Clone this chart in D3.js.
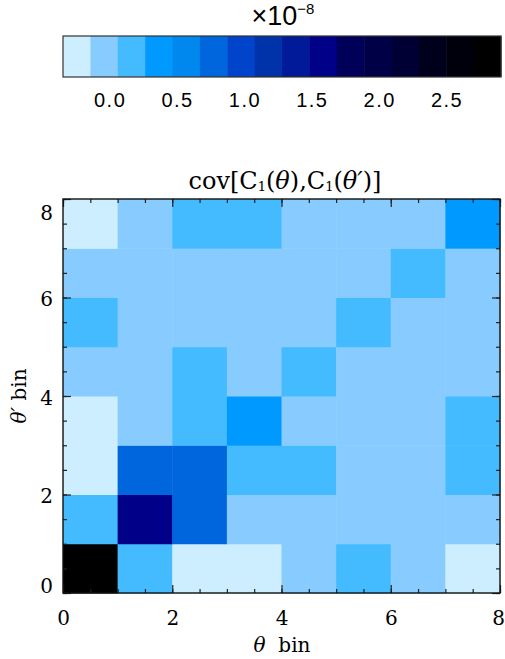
<!DOCTYPE html>
<html>
<head>
<meta charset="utf-8">
<script src="https://cdn.jsdelivr.net/npm/d3@7/dist/d3.min.js"></script>
<style>
  body { margin: 0; background: #fff; }
  svg { display: block; }
  .tick line { stroke: #222; stroke-width: 1.2; }
  .serif { font-family: "DejaVu Serif", "Liberation Serif", serif; }
</style>
</head>
<body>
<div id="chart-area"></div>
<script>
// covariance values, units of 1e-8; row i = theta' bin i (bottom to top), column j = theta bin j
var row0 = [ 2.80,  0.16, -0.24, -0.26, -0.04,  0.14, -0.06, -0.25];
var row1 = [ 0.16,  1.56,  0.76, -0.05, -0.03, -0.07, -0.04, -0.06];
var row2 = [-0.24,  0.76,  0.74,  0.15,  0.17, -0.05, -0.08,  0.13];
var row3 = [-0.26, -0.05,  0.15,  0.36, -0.06, -0.04, -0.05,  0.12];
var row4 = [-0.04, -0.03,  0.17, -0.06,  0.18, -0.03, -0.06, -0.05];
var row5 = [ 0.14, -0.07, -0.05, -0.04, -0.03,  0.16, -0.07, -0.04];
var row6 = [-0.06, -0.04, -0.08, -0.05, -0.06, -0.07,  0.15, -0.06];
var row7 = [-0.25, -0.06,  0.13,  0.12, -0.05, -0.04, -0.06,  0.33];
var rows = [row0, row1, row2, row3, row4, row5, row6, row7];

var colorLevels = ["#cceeff", "#88ccff", "#44bbff", "#0099ff", "#0088ee", "#0066dd",
                   "#0044cc", "#0033aa", "#001a99", "#000088", "#000058", "#000046",
                   "#000034", "#00001c", "#00000c", "#000000"];
var colorDomain = [-0.35, 2.9];
var barTicks = [0.0, 0.5, 1.0, 1.5, 2.0, 2.5];
var binTicks = [0, 2, 4, 6, 8];

var W = 505, H = 659;
var svg = d3.select("#chart-area").append("svg")
    .attr("width", W)
    .attr("height", H);

var color = d3.scaleQuantize().domain(colorDomain).range(colorLevels);

// ---- colour bar ----
var cb = { left: 63, right: 501, top: 36, bottom: 77 };
var cx = d3.scaleLinear().domain(colorDomain).range([cb.left, cb.right]);
var step = (colorDomain[1] - colorDomain[0]) / colorLevels.length;

svg.append("g").selectAll("rect")
    .data(colorLevels)
    .enter()
    .append("rect")
        .attr("x", function(d, i){ return cx(colorDomain[0] + i * step); })
        .attr("y", cb.top)
        .attr("width", function(d, i){ return cx(colorDomain[0] + (i + 1) * step) - cx(colorDomain[0] + i * step) + 0.5; })
        .attr("height", cb.bottom - cb.top)
        .attr("fill", function(d){ return d; });

svg.append("rect")
    .attr("x", cb.left).attr("y", cb.top)
    .attr("width", cb.right - cb.left).attr("height", cb.bottom - cb.top)
    .attr("fill", "none").attr("stroke", "#333").attr("stroke-width", 1.2);

svg.append("g").selectAll("text")
    .data(barTicks)
    .enter()
    .append("text")
        .attr("x", function(d){ return cx(d); })
        .attr("y", 107)
        .attr("text-anchor", "middle")
        .attr("font-family", "'Liberation Sans', Arial, sans-serif")
        .attr("font-size", "20px")
        .attr("letter-spacing", "1.5px")
        .text(d3.format(".1f"));

var mult = svg.append("text")
    .attr("x", 283)
    .attr("y", 25)
    .attr("text-anchor", "middle")
    .attr("font-family", "'Liberation Sans', Arial, sans-serif")
    .attr("font-size", "27px");
mult.append("tspan").text("\u00d710");
mult.append("tspan").attr("dy", -11).attr("font-size", "15px").text("\u22128");

// ---- heat map ----
var plot = { left: 63, right: 500, top: 199, bottom: 593 };
var x = d3.scaleLinear().domain([0, 8]).range([plot.left, plot.right]);
var y = d3.scaleLinear().domain([0, 8]).range([plot.bottom, plot.top]);

var cells = [];
rows.forEach(function(r, i){
    r.forEach(function(v, j){ cells.push({ i: i, j: j, v: v }); });
});

svg.append("g").selectAll("rect")
    .data(cells)
    .enter()
    .append("rect")
        .attr("x", function(d){ return x(d.j); })
        .attr("y", function(d){ return y(d.i + 1); })
        .attr("width", function(d){ return x(d.j + 1) - x(d.j) + 0.5; })
        .attr("height", function(d){ return y(d.i) - y(d.i + 1) + 0.5; })
        .attr("fill", function(d){ return color(d.v); });

// axes: ticks pointing inward on all four sides
var minorVals = d3.range(0, 8.01, 0.5);

function addAxis(axisFn, scale, transform, labels) {
    var gMinor = svg.append("g")
        .attr("transform", transform)
        .call(axisFn(scale).tickValues(minorVals).tickSize(-4).tickFormat(""));
    gMinor.select(".domain").remove();
    var gMajor = svg.append("g")
        .attr("class", "serif")
        .attr("transform", transform)
        .call(axisFn(scale).tickValues(binTicks).tickSize(-8).tickPadding(10)
            .tickFormat(labels ? d3.format("d") : ""));
    gMajor.select(".domain").remove();
    gMajor.selectAll("text").attr("font-size", "20px").attr("fill", "#000")
        .attr("font-family", "'DejaVu Serif', 'Liberation Serif', serif");
    return gMajor;
}

addAxis(d3.axisBottom, x, "translate(0," + plot.bottom + ")", true)
    .selectAll("text")
        .attr("dy", "1.1em")
        .attr("dx", function(d){ return d === 8 ? -2 : 0; });
addAxis(d3.axisTop, x, "translate(0," + plot.top + ")", false);
addAxis(d3.axisLeft, y, "translate(" + plot.left + ",0)", true)
    .selectAll("text")
        .attr("dy", function(d){
            if (d === 8) return "1.0em";
            if (d === 0) return "-0.05em";
            return "0.4em";
        });
addAxis(d3.axisRight, y, "translate(" + plot.right + ",0)", false);

svg.append("rect")
    .attr("x", plot.left).attr("y", plot.top)
    .attr("width", plot.right - plot.left).attr("height", plot.bottom - plot.top)
    .attr("fill", "none").attr("stroke", "#111").attr("stroke-width", 1.4);

// title
var title = svg.append("text")
    .attr("class", "serif")
    .attr("x", 285)
    .attr("y", 189)
    .attr("text-anchor", "middle")
    .attr("font-size", "24px");
title.append("tspan").text("cov[C");
title.append("tspan").attr("font-size", "13px").attr("dy", 2).text("1");
title.append("tspan").attr("dy", -2).text("(");
title.append("tspan").attr("font-style", "italic").text("\u03b8");
title.append("tspan").text("),C");
title.append("tspan").attr("font-size", "13px").attr("dy", 2).text("1");
title.append("tspan").attr("dy", -2).text("(");
title.append("tspan").attr("font-style", "italic").text("\u03b8\u2032");
title.append("tspan").text(")]");

// axis labels
var xl = svg.append("text")
    .attr("class", "serif")
    .attr("x", 282)
    .attr("y", 652)
    .attr("text-anchor", "middle")
    .attr("font-size", "20px");
xl.append("tspan").attr("font-style", "italic").text("\u03b8");
xl.append("tspan").text("\u00a0 bin");

var yl = svg.append("text")
    .attr("class", "serif")
    .attr("transform", "translate(26," + ((plot.top + plot.bottom) / 2) + ") rotate(-90)")
    .attr("text-anchor", "middle")
    .attr("font-size", "20px");
yl.append("tspan").attr("font-style", "italic").text("\u03b8\u2032");
yl.append("tspan").text(" bin");
</script>
</body>
</html>
